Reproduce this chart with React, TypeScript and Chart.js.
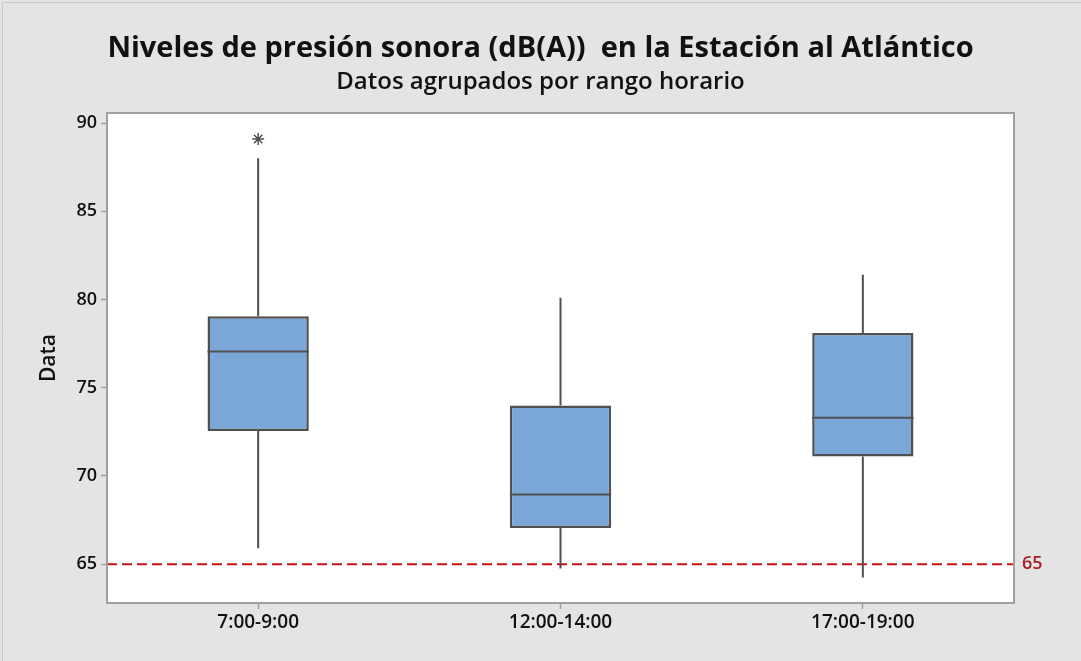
import React, { useEffect, useRef } from 'react';
import { Chart, registerables } from 'chart.js';

Chart.register(...registerables);

const categories = ['7:00-9:00', '12:00-14:00', '17:00-19:00'];
const q1Values = [72.55, 67.05, 71.1];
const medianValues = [77.05, 68.95, 73.3];
const q3Values = [79.05, 74.0, 78.1];
const whiskerLow = [65.9, 64.75, 64.25];
const whiskerHigh = [88.0, 80.1, 81.4];
const outlierValues: (number | null)[] = [89.1, null, null];
const yTickValues = [65, 70, 75, 80, 85, 90];
const referenceValue = 65;

const FONT = "'Open Sans', 'Noto Sans', sans-serif";
const BOX_FILL = '#7aa6d8';
const LINE_GRAY = '#505050';
const FRAME_GRAY = '#a0a0a0';
const REF_RED = '#cc1111';

const boxPlugin = {
  id: 'boxDecor',
  beforeDraw(chart: any) {
    const { ctx, chartArea } = chart;
    ctx.save();
    ctx.fillStyle = '#e4e4e4';
    ctx.fillRect(0, 0, chart.width, chart.height);
    ctx.strokeStyle = '#c8c8c8';
    ctx.lineWidth = 1;
    ctx.beginPath();
    ctx.moveTo(2.5, chart.height);
    ctx.lineTo(2.5, 2.5);
    ctx.lineTo(chart.width, 2.5);
    ctx.stroke();
    ctx.fillStyle = '#ffffff';
    ctx.fillRect(chartArea.left, chartArea.top, chartArea.right - chartArea.left, chartArea.bottom - chartArea.top);
    ctx.restore();
  },
  beforeDatasetsDraw(chart: any) {
    const { ctx, chartArea, scales } = chart;
    const y = scales.y.getPixelForValue(referenceValue);
    ctx.save();
    ctx.strokeStyle = REF_RED;
    ctx.lineWidth = 2;
    ctx.setLineDash([10, 5]);
    ctx.beginPath();
    ctx.moveTo(chartArea.left, y);
    ctx.lineTo(chartArea.right, y);
    ctx.stroke();
    ctx.setLineDash([]);
    ctx.fillStyle = '#a8202a';
    ctx.font = `600 18px ${FONT}`;
    ctx.textBaseline = 'middle';
    ctx.textAlign = 'left';
    ctx.fillText(String(referenceValue), chartArea.right + 8, y);
    ctx.restore();
  },
  afterDatasetsDraw(chart: any) {
    const { ctx, scales } = chart;
    const meta = chart.getDatasetMeta(0);
    ctx.save();
    ctx.strokeStyle = LINE_GRAY;
    ctx.lineWidth = 2;
    meta.data.forEach((el: any, i: number) => {
      const x = el.x;
      const half = el.width / 2;
      const yq1 = scales.y.getPixelForValue(q1Values[i]);
      const yq3 = scales.y.getPixelForValue(q3Values[i]);
      const ylo = scales.y.getPixelForValue(whiskerLow[i]);
      const yhi = scales.y.getPixelForValue(whiskerHigh[i]);
      const ymed = scales.y.getPixelForValue(medianValues[i]);
      ctx.beginPath();
      ctx.moveTo(x, yq3);
      ctx.lineTo(x, yhi);
      ctx.moveTo(x, yq1);
      ctx.lineTo(x, ylo);
      ctx.moveTo(x - half, ymed);
      ctx.lineTo(x + half, ymed);
      ctx.stroke();
    });
    ctx.restore();
  },
  afterDraw(chart: any) {
    const { ctx, chartArea } = chart;
    ctx.save();
    ctx.strokeStyle = FRAME_GRAY;
    ctx.lineWidth = 2;
    ctx.strokeRect(chartArea.left, chartArea.top, chartArea.right - chartArea.left, chartArea.bottom - chartArea.top);
    ctx.restore();
  },
};

export default function App() {
  const ref = useRef<HTMLCanvasElement | null>(null);

  useEffect(() => {
    if (!ref.current) return;
    const chart = new Chart(ref.current, {
      type: 'bar',
      data: {
        labels: categories,
        datasets: [
          {
            type: 'bar',
            data: categories.map((_, i) => [q1Values[i], q3Values[i]]) as any,
            backgroundColor: BOX_FILL,
            borderColor: LINE_GRAY,
            borderWidth: 2.5,
            borderSkipped: false,
            barPercentage: 0.335,
            categoryPercentage: 1,
          },
          {
            type: 'line',
            data: outlierValues as any,
            showLine: false,
            pointStyle: 'star',
            pointRadius: 6,
            pointBorderColor: LINE_GRAY,
            pointBackgroundColor: LINE_GRAY,
            pointBorderWidth: 1.5,
          } as any,
        ],
      },
      options: {
        responsive: false,
        animation: false,
        layout: { padding: { left: 0, right: 0, top: 0, bottom: 0 } },
        plugins: {
          legend: { display: false },
          tooltip: { enabled: false },
          title: {
            display: true,
            text: 'Niveles de presión sonora (dB(A))  en la Estación al Atlántico',
            color: '#111111',
            font: { family: FONT, size: 29, weight: 'bold', lineHeight: 1.2 },
            padding: { top: 31, bottom: 0 },
          },
          subtitle: {
            display: true,
            text: 'Datos agrupados por rango horario',
            color: '#111111',
            font: { family: FONT, size: 24, weight: 600, lineHeight: 1.2 },
            padding: { top: 2, bottom: 16.4 },
          },
        },
        scales: {
          x: {
            type: 'category',
            offset: true,
            grid: {
              display: true,
              offset: false,
              drawOnChartArea: false,
              drawTicks: true,
              tickLength: 6,
              tickColor: FRAME_GRAY,
              tickWidth: 1.5,
            },
            border: { display: false },
            ticks: {
              color: '#111111',
              font: { family: FONT, size: 19, weight: 600 },
              padding: 2,
            },
            afterFit(scale: any) {
              scale.height = 58;
            },
          },
          y: {
            type: 'linear',
            min: 62.8,
            max: 90.57,
            grid: {
              display: true,
              drawOnChartArea: false,
              drawTicks: true,
              tickLength: 6,
              tickColor: FRAME_GRAY,
              tickWidth: 1.5,
            },
            border: { display: false },
            ticks: {
              color: '#111111',
              font: { family: FONT, size: 18, weight: 600 },
              padding: 4,
            },
            afterBuildTicks(scale: any) {
              scale.ticks = yTickValues.map((v) => ({ value: v }));
            },
            afterFit(scale: any) {
              scale.width = 107;
            },
            title: {
              display: true,
              text: 'Data',
              color: '#111111',
              font: { family: FONT, size: 21, weight: 600, lineHeight: 1.2 },
              padding: { top: 36, bottom: 0 },
            },
          },
          rightSpace: {
            type: 'linear',
            position: 'right',
            display: true,
            grid: { display: false },
            border: { display: false },
            ticks: { display: false },
            afterFit(scale: any) {
              scale.width = 67;
            },
          },
        },
      },
      plugins: [boxPlugin],
    });
    return () => chart.destroy();
  }, []);

  return (
    <div style={{ position: 'absolute', left: 0, top: 0, width: 1081, height: 661 }}>
      <canvas ref={ref} width={1081} height={661} />
    </div>
  );
}
